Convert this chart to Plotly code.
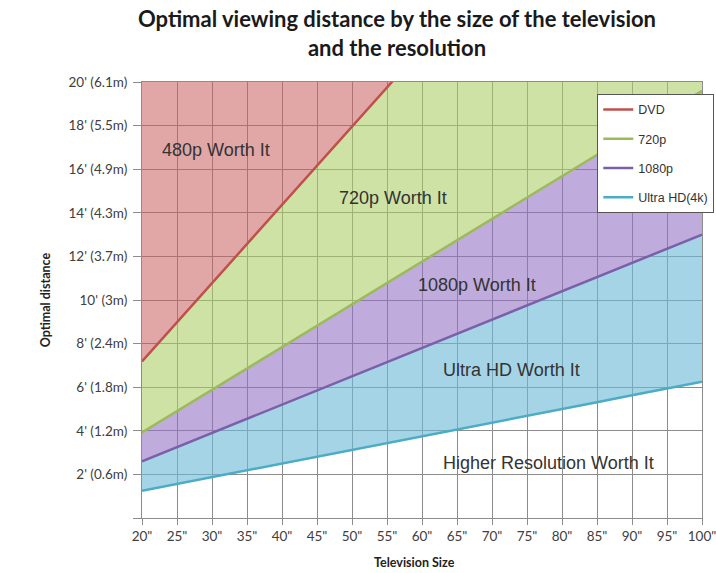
import plotly.graph_objects as go

# Screen sizes (inches) along the horizontal axis
sizes = [20, 25, 30, 35, 40, 45, 50, 55, 60, 65, 70, 75, 80, 85, 90, 95, 100]
size_labels = ['20"', '25"', '30"', '35"', '40"', '45"', '50"', '55"', '60"',
               '65"', '70"', '75"', '80"', '85"', '90"', '95"', '100"']

# Optimal viewing distance (feet) per resolution
dvd = [7.18, 8.98, 10.77, 12.57, 14.36, 16.16, 17.95, 19.75, 21.54, 23.34,
       25.13, 26.93, 28.72, 30.52, 32.31, 34.11, 35.90]
p720 = [3.92, 4.90, 5.88, 6.86, 7.84, 8.82, 9.80, 10.78, 11.76, 12.74,
        13.72, 14.70, 15.68, 16.66, 17.64, 18.62, 19.60]
p1080 = [2.60, 3.25, 3.90, 4.55, 5.20, 5.85, 6.50, 7.15, 7.80, 8.45,
         9.10, 9.75, 10.40, 11.05, 11.70, 12.35, 13.00]
uhd = [1.25, 1.56, 1.88, 2.19, 2.50, 2.81, 3.13, 3.44, 3.75, 4.06,
       4.38, 4.69, 5.00, 5.31, 5.63, 5.94, 6.25]

# Distance axis ticks
dist_ticks = [2, 4, 6, 8, 10, 12, 14, 16, 18, 20]
dist_labels = ["2' (0.6m)", "4' (1.2m)", "6' (1.8m)", "8' (2.4m)", "10' (3m)",
               "12' (3.7m)", "14' (4.3m)", "16' (4.9m)", "18' (5.5m)", "20' (6.1m)"]
Y_MAX = 20
ceiling = [Y_MAX] * len(sizes)

# Region labels
region_text = ["480p Worth It", "720p Worth It", "1080p Worth It",
               "Ultra HD Worth It", "Higher Resolution Worth It"]
region_x = [30.6, 55.9, 67.8, 72.8, 78.0]
region_y = [16.9, 14.7, 10.7, 6.8, 2.54]

line_colors = {"DVD": "#c0504d", "720p": "#9bbb59", "1080p": "#7b5fa8",
               "Ultra HD(4k)": "#4bacc6"}
band_colors = ["rgba(110,185,215,0.62)",   # between 1080p and Ultra HD
               "rgba(145,110,195,0.58)",   # between 720p and 1080p
               "rgba(170,205,100,0.58)",   # between DVD and 720p
               "rgba(200,95,95,0.55)"]     # above DVD

fig = go.Figure()

# Shaded bands, stacked from the lowest curve upward
fig.add_trace(go.Scatter(x=sizes, y=uhd, mode="lines", line=dict(width=0),
                         showlegend=False, hoverinfo="skip"))
for ys, col in zip([p1080, p720, dvd, ceiling], band_colors):
    fig.add_trace(go.Scatter(x=sizes, y=ys, mode="lines", line=dict(width=0),
                             fill="tonexty", fillcolor=col,
                             showlegend=False, hoverinfo="skip"))

# Resolution curves
for name, ys in [("DVD", dvd), ("720p", p720), ("1080p", p1080), ("Ultra HD(4k)", uhd)]:
    fig.add_trace(go.Scatter(x=sizes, y=ys, mode="lines", name=name,
                             legendgroup=name,
                             line=dict(color=line_colors[name], width=2.5)))

for t, xv, yv in zip(region_text, region_x, region_y):
    fig.add_annotation(x=xv, y=yv, text=t, showarrow=False,
                       font=dict(family="Liberation Sans", size=18, color="#333333"))

# Chart title
fig.add_annotation(xref="paper", yref="paper", x=0.456, y=1.112,
                   xanchor="center", yanchor="middle", showarrow=False,
                   text="<b>Optimal viewing distance by the size of the television<br>and the resolution</b>",
                   font=dict(family="Lato", size=22, color="#1a1a1a"))

# Axis titles
fig.add_annotation(xref="paper", yref="paper", x=0.487, y=-0.1025,
                   xanchor="center", yanchor="middle",
                   text="<b>Television Size</b>", showarrow=False,
                   font=dict(family="Lato", size=12.5, color="#222222"))
fig.add_annotation(xref="paper", yref="paper", x=-0.1727, y=0.5,
                   xanchor="center", yanchor="middle",
                   text="<b>Optimal distance</b>", showarrow=False, textangle=-90,
                   font=dict(family="Lato", size=12.5, color="#222222"))

grid_col = "#8c8c8c"
fig.update_layout(
    width=716, height=573,
    margin=dict(l=142, r=14, t=82, b=55, autoexpand=False),
    plot_bgcolor="white", paper_bgcolor="white",
    legend=dict(x=0.813, y=0.9725, xanchor="left", yanchor="top",
                bgcolor="white", bordercolor="#555555", borderwidth=1,
                tracegroupgap=10,
                font=dict(family="Liberation Sans", size=12.5, color="#333333")),
    xaxis=dict(range=[20, 100], tickvals=sizes, ticktext=size_labels,
               showgrid=True, gridcolor=grid_col, gridwidth=1,
               showline=True, linecolor=grid_col, mirror=True,
               ticks="outside", ticklen=6, tickcolor=grid_col,
               ticklabeloverflow="allow",
               tickfont=dict(family="Lato", size=13.5, color="#404040"),
               zeroline=False, fixedrange=True, automargin=False),
    yaxis=dict(range=[0, Y_MAX], tickvals=[0] + dist_ticks, ticktext=[""] + dist_labels,
               showgrid=True, gridcolor=grid_col, gridwidth=1,
               showline=True, linecolor=grid_col, mirror=True,
               ticks="outside", ticklen=8, tickcolor=grid_col,
               ticklabelstandoff=3,
               tickfont=dict(family="Lato", size=13.5, color="#404040"),
               zeroline=False, fixedrange=True, automargin=False),
)

fig.write_html("out.html")
